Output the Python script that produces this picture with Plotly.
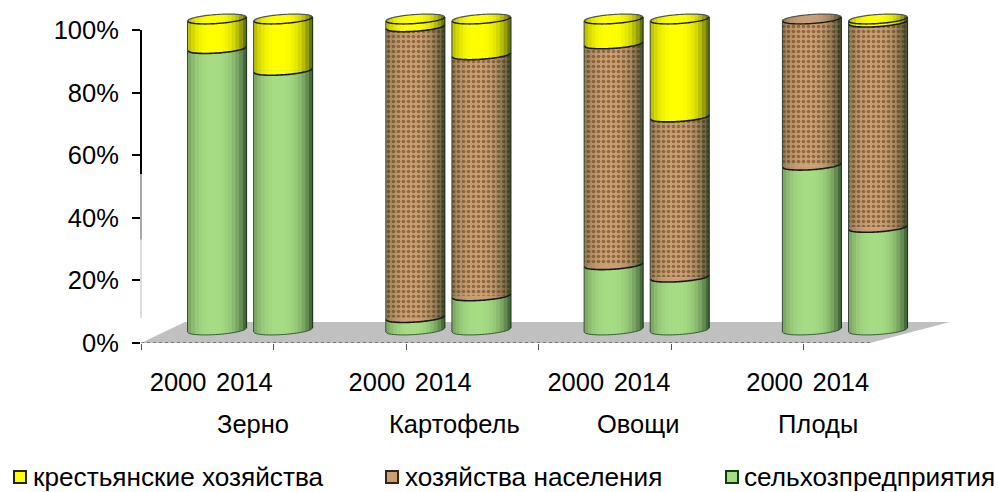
import numpy as np
import plotly.graph_objects as go

W, H = 998, 492
groups = ["Зерно", "Картофель", "Овощи", "Плоды"]
years = ["2000", "2014"]
farms = [9.5, 16.5, 2.5, 11.5, 8, 31.5, 0, 1]
households = [0, 0, 93.5, 77.5, 71, 51.5, 47, 66]
enterprises = [90.5, 83.5, 4, 11, 21, 17, 53, 33]
y_ticks = [0, 20, 40, 60, 80, 100]
series_names = ["крестьянские хозяйства", "хозяйства населения", "сельхозпредприятия"]

YELLOW, BROWN, BROWN_DK, GREEN = "#ffff00", "#c9a075", "#94683f", "#a6dc84"
FONT = "Liberation Sans"
FS = 25.5
FS_LEG = 26.2

# plot geometry in pixels
AX_L, AX_R, AX_END = 141, 950, 870
Y0, Y100 = 343, 30
PITCH = (AX_END - AX_L) / 11
BAR_PX0, BAR_PITCH, BAR_W = 217, 66.1, 59 / 66.1
B0, UNIT = 330, 3.11        # bar-axis: pixel of 0 and px per percent
TOP_PX, BOT_PX = 4, 341
TILT, SEMI = 0.64, 1.45     # ellipse tilt and half height, in percent units

slots = [g * 3 + j for g in range(len(groups)) for j in range(len(years))]
label_pos = [s + 0.56 for s in slots]
label_txt = [years[j] for g in range(len(groups)) for j in range(len(years))]
bound_ticks = [0, 2, 4, 6, 8, 10]

fx = lambda p: p / W
fy = lambda p: 1 - p / H


def poly(xs, ys, close=True):
    d = "M" + "L".join(f"{x:.4f},{y:.4f}" for x, y in zip(xs, ys))
    return d + ("Z" if close else "")


def front(v, t):
    return v + TILT * t - SEMI * np.sqrt(np.clip(1 - t * t, 0, 1))


def rear(v, t):
    return v + TILT * t + SEMI * np.sqrt(np.clip(1 - t * t, 0, 1))


shapes = []


def add(path, fill=None, line=None, lw=0, layer="above", xr="x2", yr="y2", op=1):
    s = dict(type="path", path=path, xref=xr, yref=yr, layer=layer, opacity=op,
             line=dict(color=line or "rgba(0,0,0,0)", width=lw))
    if fill:
        s["fillcolor"] = fill
    shapes.append(s)


# floor
floor_left = (185 - AX_L) / PITCH
floor_right = (AX_R - AX_L) / PITCH
floor_h = (Y0 - 322) / ((Y0 - Y100) / 100)
add(poly([0, 11, floor_right, floor_left], [0, 0, floor_h, floor_h]),
    fill="#c0c0c0", layer="below", xr="x", yr="y")
shapes.append(dict(type="line", xref="x", yref="y", x0=0, x1=11, y0=0, y1=0, layer="above",
                   line=dict(color="#333333", width=1, dash="3px,3px")))
# value axis fades out towards the bottom
for lo, hi, col, lw in [(54, 100, "#000000", 2), (33, 54, "#555555", 1), (8, 33, "#bbbbbb", 1)]:
    shapes.append(dict(type="line", xref="paper", yref="y", x0=fx(AX_L), x1=fx(AX_L), y0=lo, y1=hi,
                       line=dict(color=col, width=lw)))

T = np.linspace(-1, 1, 41)
for i, s in enumerate(slots):
    hw = BAR_W / 2
    px = s + hw * T
    stack = [(enterprises[i], GREEN), (households[i], BROWN), (farms[i], YELLOW)]
    stack = [c for c in stack if c[0] > 0]
    # round base
    add(poly(px, front(0, T)) + "Z", fill=GREEN, layer="below")
    add(poly(s + hw * T, rear(0, T)) + "Z", fill=GREEN, layer="below")
    level = 0
    for k in range(len(stack) - 1):
        level += stack[k][0]
        lower, upper = stack[k][1], stack[k + 1][1]
        f = front(level, T)
        add(poly(np.r_[px, px[::-1]], np.r_[np.minimum(f, level), np.full_like(f, level)]), fill=upper)
        add(poly(np.r_[px, px[::-1]], np.r_[np.maximum(f, level), np.full_like(f, level)]), fill=lower)
    top = level + stack[-1][0]
    add(poly(np.r_[px, px[::-1]], np.r_[front(top, T), rear(top, T)[::-1]]), fill=stack[-1][1])
    # cylinder shading as thin strips
    n = 16
    edges = np.linspace(-1, 1, n + 1)
    for a, b in zip(edges[:-1], edges[1:]):
        m = (a + b) / 2
        alpha = (0.5 if m < 0 else 0.55) * abs(m + 0.12) ** 2.8
        tt = np.linspace(a, b, 4)
        add(poly(np.r_[s + hw * tt, s + hw * tt[::-1]],
                 np.r_[front(0, tt), rear(top, tt)[::-1]]),
            fill=f"rgba(20,40,20,{alpha:.3f})")
    # outlines
    level = 0
    for k in range(len(stack) - 1):
        level += stack[k][0]
        add(poly(px, front(level, T), close=False), line="#1a1a1a", lw=1.6)
    add(poly(px, front(top, T), close=False), line="#1a1a1a", lw=1.4)
    add(poly(px, rear(top, T), close=False), line="#555555", lw=1.2)
    add(poly([s - hw, s - hw], [0 - TILT, top - TILT], close=False), line="#3c4a3c", lw=1)
    add(poly([s + hw, s + hw], [0 + TILT, top + TILT], close=False), line="#1f3a1f", lw=1.2)
    add(poly(px, front(0, T), close=False), line="#2f5a2f", lw=1)

fig = go.Figure()
fig.add_bar(x=slots, y=enterprises, name=series_names[2], marker=dict(color=GREEN, line_width=0),
            width=BAR_W, xaxis="x2", yaxis="y2", showlegend=False)
fig.add_bar(x=slots, y=households, name=series_names[1], width=BAR_W, xaxis="x2", yaxis="y2",
            marker=dict(color=BROWN, line_width=0,
                        pattern=dict(shape=".", size=5, solidity=0.42, fgcolor=BROWN_DK,
                                     bgcolor=BROWN, fillmode="replace")),
            showlegend=False)
fig.add_bar(x=slots, y=farms, name=series_names[0], marker=dict(color=YELLOW, line_width=0),
            width=BAR_W, xaxis="x2", yaxis="y2", showlegend=False)

# group names
annotations = []
for name, p in zip(groups, [253, 454, 638, 818]):
    annotations.append(dict(text=name, xref="paper", yref="paper", x=fx(p), y=fy(424),
                            xanchor="center", yanchor="middle", showarrow=False,
                            font=dict(size=FS, family=FONT, color="#000")))
# legend
for name, sw, txt, col, edge in zip(series_names, [13, 385, 725], [31, 403, 742],
                                    [YELLOW, BROWN, GREEN], ["#222222", "#3a2414", "#0f3d0f"]):
    shapes.append(dict(type="rect", xref="paper", yref="paper", x0=fx(sw + 1), x1=fx(sw + 13),
                       y0=fy(483), y1=fy(471), fillcolor=col, line=dict(color=edge, width=2)))
    annotations.append(dict(text=name, xref="paper", yref="paper", x=fx(txt), y=fy(477),
                            xanchor="left", yanchor="middle", showarrow=False,
                            font=dict(size=FS_LEG, family=FONT, color="#000")))

fig.update_layout(
    width=W, height=H, margin=dict(l=0, r=0, t=0, b=0, autoexpand=False), autosize=False,
    paper_bgcolor="white", plot_bgcolor="rgba(0,0,0,0)",
    barmode="stack", bargap=0, showlegend=False,
    font=dict(family=FONT, size=FS, color="#000"),
    shapes=shapes, annotations=annotations,
    xaxis=dict(domain=[fx(AX_L), fx(AX_R)], range=[0, (AX_R - AX_L) / PITCH], anchor="y",
               showgrid=False, zeroline=False, showline=False, ticks="", tickmode="array",
               tickvals=label_pos, ticktext=label_txt, ticklabelstandoff=21,
               minor=dict(tickmode="array", tickvals=bound_ticks, ticks="outside", ticklen=6,
                          tickwidth=1, tickcolor="#555555", showgrid=False)),
    yaxis=dict(domain=[fy(Y0), fy(Y100)], range=[0, 100], anchor="x", showgrid=False, zeroline=False,
               showline=False, tickmode="array", tickvals=y_ticks, ticktext=[f"{v}%" for v in y_ticks],
               ticks="outside", ticklen=8, tickwidth=2, tickcolor="#000", ticklabelstandoff=8),
    xaxis2=dict(domain=[fx(AX_L), fx(AX_R)], range=[(AX_L - BAR_PX0) / BAR_PITCH, (AX_R - BAR_PX0) / BAR_PITCH],
                anchor="y2", visible=False),
    yaxis2=dict(domain=[fy(BOT_PX), fy(TOP_PX)], range=[(B0 - BOT_PX) / UNIT, (B0 - TOP_PX) / UNIT],
                anchor="x2", visible=False),
)
fig.write_html("out.html", config={"displayModeBar": False},
               post_script="document.body.style.margin='0';")
